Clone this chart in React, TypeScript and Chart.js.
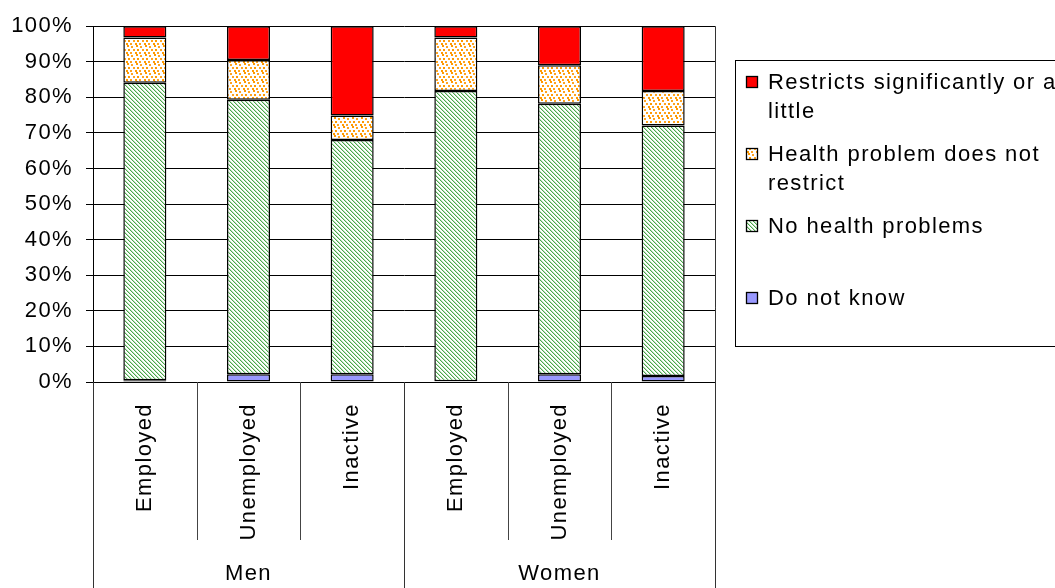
import React, { useEffect, useRef } from 'react';
import { Chart, registerables } from 'chart.js';

Chart.register(...registerables);

// ---- data ----
const categories = ['Employed', 'Unemployed', 'Inactive', 'Employed', 'Unemployed', 'Inactive'];
const groups = ['Men', 'Women'];
const groupSize = 3;
const yTicks = [0, 10, 20, 30, 40, 50, 60, 70, 80, 90, 100];

const doNotKnow = [0.5, 2.2, 2.2, 0.2, 2.2, 1.7];
const noHealthProblems = [83.6, 77.1, 65.8, 81.6, 76.0, 70.4];
const doesNotRestrict = [12.7, 11.2, 6.9, 15.0, 10.8, 9.7];
const restricts = [3.2, 9.5, 25.1, 3.2, 11.0, 18.2];

const seriesNames = [
  'Do not know',
  'No health problems',
  'Health problem does not restrict',
  'Restricts significantly or a little',
];

// ---- styles ----
const FONT_FAMILY = "'Liberation Sans', Arial, sans-serif";
const FONT_SIZE = 22;
const LETTER_SPACING = '1.4px';
const FONT = `${FONT_SIZE}px ${FONT_FAMILY}`;

function makeStripes(): CanvasPattern | string {
  const c = document.createElement('canvas');
  c.width = 4;
  c.height = 4;
  const g = c.getContext('2d');
  if (!g) return '#3a9a3a';
  g.fillStyle = '#ffffff';
  g.fillRect(0, 0, 4, 4);
  for (let i = 0; i < 4; i++) {
    g.fillStyle = '#4aa64a';
    g.fillRect(i, i, 1, 1);
    g.fillStyle = '#bfe3bf';
    g.fillRect((i + 1) % 4, i, 1, 1);
  }
  return g.createPattern(c, 'repeat') || '#3a9a3a';
}

function makeDots(): CanvasPattern | string {
  const c = document.createElement('canvas');
  c.width = 9;
  c.height = 9;
  const g = c.getContext('2d');
  if (!g) return '#ff9900';
  g.fillStyle = '#ffffff';
  g.fillRect(0, 0, 9, 9);
  const spots = [
    [1, 0], [5, 1], [2, 4], [7, 4], [0, 7], [4, 7],
  ];
  spots.forEach(([x, y], i) => {
    g.fillStyle = i % 2 === 0 ? '#ff9900' : '#ffa320';
    g.fillRect(x, y, 2, 2);
  });
  return g.createPattern(c, 'repeat') || '#ff9900';
}

function wrapText(ctx: CanvasRenderingContext2D, text: string, maxW: number): string[] {
  const words = text.split(' ');
  const lines: string[] = [];
  let cur = '';
  words.forEach((w) => {
    const test = cur ? cur + ' ' + w : w;
    if (ctx.measureText(test).width > maxW && cur) {
      lines.push(cur);
      cur = w;
    } else {
      cur = test;
    }
  });
  if (cur) lines.push(cur);
  return lines;
}

export default function App() {
  const ref = useRef<HTMLCanvasElement | null>(null);

  useEffect(() => {
    const canvas = ref.current;
    if (!canvas) return;

    const stripes = makeStripes();
    const dots = makeDots();
    const fills = ['#9999ff', stripes, dots, '#ff0000'];
    const seriesData = [doNotKnow, noHealthProblems, doesNotRestrict, restricts];

    const decor = {
      id: 'decor',
      beforeDraw(chart: any) {
        (chart.ctx as any).letterSpacing = LETTER_SPACING;
      },
      afterDraw(chart: any) {
        const ctx: CanvasRenderingContext2D = chart.ctx;
        const xs = chart.scales.x;
        const area = chart.chartArea;
        const n = categories.length;
        const w = (xs.right - xs.left) / n;
        ctx.save();
        (ctx as any).letterSpacing = LETTER_SPACING;
        // category / group separator lines
        ctx.lineWidth = 1;
        for (let k = 0; k <= n; k++) {
          const px = Math.round(xs.left + k * w) + 0.5;
          const isGroup = k % groupSize === 0;
          const y0 = k === n ? area.top : area.bottom;
          const y1 = isGroup ? chart.height : area.bottom + 158;
          ctx.strokeStyle = isGroup ? '#333' : '#444';
          ctx.beginPath();
          ctx.moveTo(px, y0);
          ctx.lineTo(px, y1);
          ctx.stroke();
        }
        // group labels
        ctx.font = FONT;
        ctx.fillStyle = '#000';
        ctx.textAlign = 'center';
        ctx.textBaseline = 'alphabetic';
        groups.forEach((g, i) => {
          const cx = xs.left + (i * groupSize + groupSize / 2) * w;
          ctx.fillText(g, cx, area.bottom + 198);
        });
        // legend box
        const lx = 735.5;
        const ly = 60.5;
        ctx.strokeStyle = '#000';
        ctx.strokeRect(lx, ly, 400, 286);
        ctx.textAlign = 'left';
        const order = [3, 2, 1, 0];
        order.forEach((si, i) => {
          const base = 89 + i * 72;
          const sx = 746;
          const sy = base - 13;
          ctx.fillStyle = fills[si] as any;
          ctx.fillRect(sx, sy, 12, 12);
          ctx.strokeStyle = '#000';
          ctx.lineWidth = 1.3;
          ctx.strokeRect(sx + 0.5, sy + 0.5, 11, 11);
          ctx.fillStyle = '#000';
          const lines = wrapText(ctx, seriesNames[si], 292);
          lines.forEach((ln, j) => ctx.fillText(ln, 768, base + j * 28.5));
        });
        ctx.restore();
      },
    };

    const chart = new Chart(canvas, {
      type: 'bar',
      data: {
        labels: categories,
        datasets: seriesData.map((d, i) => ({
          label: seriesNames[i],
          data: d,
          backgroundColor: fills[i] as any,
          borderColor: '#000',
          borderWidth: 1.5,
          borderSkipped: false,
          categoryPercentage: 1,
          barPercentage: 0.415,
        })),
      },
      options: {
        animation: false,
        responsive: false,
        events: [],
        layout: { padding: { left: 0, top: 25, right: 340, bottom: 0 } },
        plugins: {
          legend: { display: false },
          tooltip: { enabled: false },
        },
        scales: {
          x: {
            stacked: true,
            grid: { display: false },
            border: { display: true, color: '#000', width: 1 },
            ticks: {
              color: '#000',
              font: { family: FONT_FAMILY, size: FONT_SIZE },
              minRotation: 90,
              maxRotation: 90,
              autoSkip: false,
              padding: 13,
            },
            afterFit: (s: any) => {
              s.height = 206;
            },
          },
          y: {
            stacked: true,
            min: 0,
            max: 100,
            afterBuildTicks: (s: any) => {
              s.ticks = yTicks.map((v) => ({ value: v }));
            },
            ticks: {
              color: '#000',
              font: { family: FONT_FAMILY, size: FONT_SIZE },
              padding: 13,
              callback: (v: any) => `${v}%`,
            },
            grid: { color: '#000', lineWidth: 1, tickLength: 7, drawTicks: true },
            border: { display: true, color: '#000', width: 1 },
            afterFit: (s: any) => {
              s.width = 93;
            },
          },
        },
      },
      plugins: [decor],
    } as any);

    return () => {
      chart.destroy();
    };
  }, []);

  return (
    <div style={{ position: 'absolute', left: 0, top: 0, width: 1055, height: 588, background: '#fff', overflow: 'hidden' }}>
      <canvas ref={ref} width={1055} height={588} style={{ display: 'block' }} />
    </div>
  );
}
